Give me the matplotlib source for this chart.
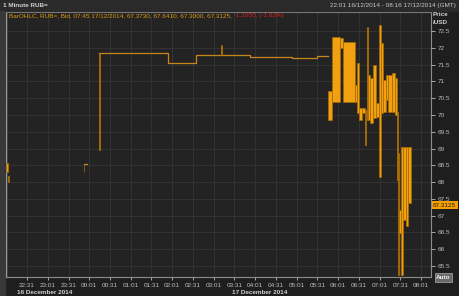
"""1-minute RUB= bid bars, 16-17 December 2014, dark terminal style."""

import datetime as dt

import matplotlib
matplotlib.use("Agg")
import matplotlib.dates as mdates
import matplotlib.pyplot as plt
from matplotlib.patches import Rectangle
from matplotlib.ticker import FuncFormatter

plt.rcParams["font.family"] = ["Liberation Sans", "DejaVu Sans"]

# flat stretches of the price line (HH:MM, evening = 16 Dec, morning = 17 Dec)
flat_times = ["00:15", "01:55", "02:35", "03:53", "04:55", "05:30", "05:46"]
flat_prices = [71.84, 71.54, 71.79, 71.74, 71.71, 71.76, 71.76]
pre_times = ["23:54", "23:58"]
pre_prices = [68.55, 68.55]

# minute bars grouped into blocks: start, end, low, high
bar_start = ["22:01", "22:03", "23:53", "00:15", "03:12",
             "05:46", "05:52", "06:04", "06:08", "06:25", "06:28", "06:31",
             "06:36", "06:40", "06:43", "06:45", "06:47", "06:52", "06:56",
             "07:00", "07:03", "07:06", "07:10", "07:13", "07:19", "07:23",
             "07:26", "07:27", "07:29", "07:32", "07:35", "07:39", "07:42"]
bar_end = ["22:03", "22:05", "23:54", "00:16", "03:13",
           "05:52", "06:04", "06:08", "06:25", "06:28", "06:31", "06:36",
           "06:40", "06:42", "06:45", "06:47", "06:52", "06:56", "07:00",
           "07:03", "07:06", "07:10", "07:13", "07:19", "07:23", "07:26",
           "07:27", "07:29", "07:32", "07:35", "07:39", "07:42", "07:46"]
bar_low = [68.31, 68.00, 68.30, 68.96, 71.79,
           69.85, 70.40, 72.00, 70.40, 70.40, 70.06, 69.85,
           70.05, 69.10, 69.85, 69.85, 69.76, 69.90, 69.94,
           68.16, 70.06, 70.10, 70.45, 70.10, 70.10, 69.99,
           68.06, 65.24, 66.49, 65.24, 66.88, 66.68, 67.38]
bar_high = [68.57, 68.18, 68.55, 71.84, 72.08,
            70.70, 72.33, 72.30, 72.18, 70.90, 71.55, 70.20,
            70.20, 70.15, 72.63, 71.19, 71.10, 71.49, 70.36,
            72.68, 72.14, 71.04, 71.19, 71.19, 71.25, 71.10,
            70.10, 68.87, 67.17, 69.06, 69.06, 69.06, 69.06]

last_price = 67.3125
y_ticks = [65.5, 66, 66.5, 67, 67.5, 68, 68.5, 69, 69.5, 70, 70.5, 71, 71.5, 72, 72.5]
x_tick_labels = ["22:31", "23:01", "23:31", "00:01", "00:31", "01:01", "01:31",
                 "02:01", "02:31", "03:01", "03:31", "04:01", "04:31", "05:01",
                 "05:31", "06:01", "06:31", "07:01", "07:31", "08:01"]
legend_main = "BarOHLC, RUB=, Bid, 07:45 17/12/2014, 67.3730, 67.6410, 67.3000, 67.3125,"
legend_change = " -1.1050, (-1.62%)"

BASE = dt.datetime(2014, 12, 16)
FS = 4.6


def clock(label):
    hour, minute = map(int, label.split(":"))
    day = 0 if hour >= 12 else 1
    return mdates.date2num(BASE + dt.timedelta(days=day, hours=hour, minutes=minute))


W, H = 460, 296
fig = plt.figure(figsize=(W / 100, H / 100), dpi=100, facecolor="#1e1e1e")
fig.patches.append(Rectangle((0, 1 - 11 / H), 1, 11 / H, transform=fig.transFigure,
                             color="#2a2a2a", zorder=0))
fig.patches.append(Rectangle((0, 0), 5 / W, 1 - 11 / H, transform=fig.transFigure,
                             color="#383838", zorder=0))

ax = fig.add_axes([6.3 / W, 1 - 277 / H, (431.4 - 6.3) / W, (277 - 12) / H])
ax.set_facecolor("#232323")

orange = "#f0a010"
edge = "#a86a00"
line_col = "#c8861a"

# bars
for s, e, lo, hi in zip(bar_start, bar_end, bar_low, bar_high):
    x0, x1 = clock(s), clock(e)
    ax.bar(x0, hi - lo, width=x1 - x0, bottom=lo, align="edge",
           color=orange, edgecolor=edge, linewidth=0.5, zorder=3)

ax.plot([clock(t) for t in flat_times], flat_prices, drawstyle="steps-post",
        color=line_col, linewidth=0.9, zorder=2)
ax.plot([clock(t) for t in pre_times], pre_prices, color=line_col, linewidth=0.9, zorder=2)

ax.set_xlim(clock("22:01"), clock("08:16"))
ax.set_ylim(65.17, 73.07)

ax.set_xticks([clock(t) for t in x_tick_labels])
ax.xaxis.set_major_formatter(mdates.DateFormatter("%H:%M"))
ax.set_yticks(y_ticks)
ax.yaxis.set_major_formatter(FuncFormatter(lambda v, _: f"{v:g}"))
ax.yaxis.tick_right()

ax.grid(True, color="#323232", linewidth=0.8, zorder=0)
ax.set_axisbelow(True)
ax.tick_params(axis="x", colors="#bdbdbd", labelsize=FS, length=2, pad=2.5, width=0.6)
ax.tick_params(axis="y", colors="#bdbdbd", labelsize=FS, length=3, pad=1.5, width=0.6)
for side in ["top", "bottom", "right"]:
    ax.spines[side].set_color("#8c8c8c")
    ax.spines[side].set_linewidth(0.8)
ax.spines["left"].set_color("#b5b5b5")
ax.spines["left"].set_linewidth(1.0)

# header and legend
fig.text(3 / W, 1 - 5.5 / H, "1 Minute RUB=", color="#d0d0d0", fontsize=FS,
         fontweight="bold", va="center", ha="left")
fig.text(456 / W, 1 - 6 / H, "22:01 16/12/2014 - 08:16 17/12/2014 (GMT)",
         color="#c8c8c8", fontsize=FS, va="center", ha="right")
leg = fig.text(9 / W, 1 - 16 / H, legend_main, color="#e09a10", fontsize=FS,
               va="center", ha="left")
ax.annotate(legend_change, xy=(1, 0.5), xycoords=leg, va="center", ha="left",
            color="#e02020", fontsize=FS)
fig.text(433 / W, 1 - 15 / H, "Price", color="#d0d0d0", fontsize=FS,
         fontweight="bold", va="center", ha="left")
fig.text(433 / W, 1 - 23 / H, "/USD", color="#d0d0d0", fontsize=FS,
         fontweight="bold", va="center", ha="left")

# date labels under the time axis
fig.text(17 / W, 1 - 293 / H, "16 December 2014", color="#d0d0d0", fontsize=FS,
         fontweight="bold", va="center", ha="left")
fig.text(232 / W, 1 - 293 / H, "17 December 2014", color="#d0d0d0", fontsize=FS,
         fontweight="bold", va="center", ha="left")

# current price marker
ax.text(1.004, last_price, f"{last_price:.4f}", transform=ax.get_yaxis_transform(),
        color="#1a1a1a", fontsize=FS, va="center", ha="left", zorder=5,
        bbox=dict(boxstyle="square,pad=0.2", facecolor="#f5a000", edgecolor="none"),
        clip_on=False)

fig.text(443.5 / W, 1 - 277.5 / H, "Auto", color="#f0f0f0", fontsize=FS,
         fontweight="bold", va="center", ha="center",
         bbox=dict(boxstyle="square,pad=0.25", facecolor="#6a6a6a", edgecolor="#9a9a9a",
                   linewidth=0.6))

fig.savefig("out.png", dpi=100, facecolor=fig.get_facecolor())
